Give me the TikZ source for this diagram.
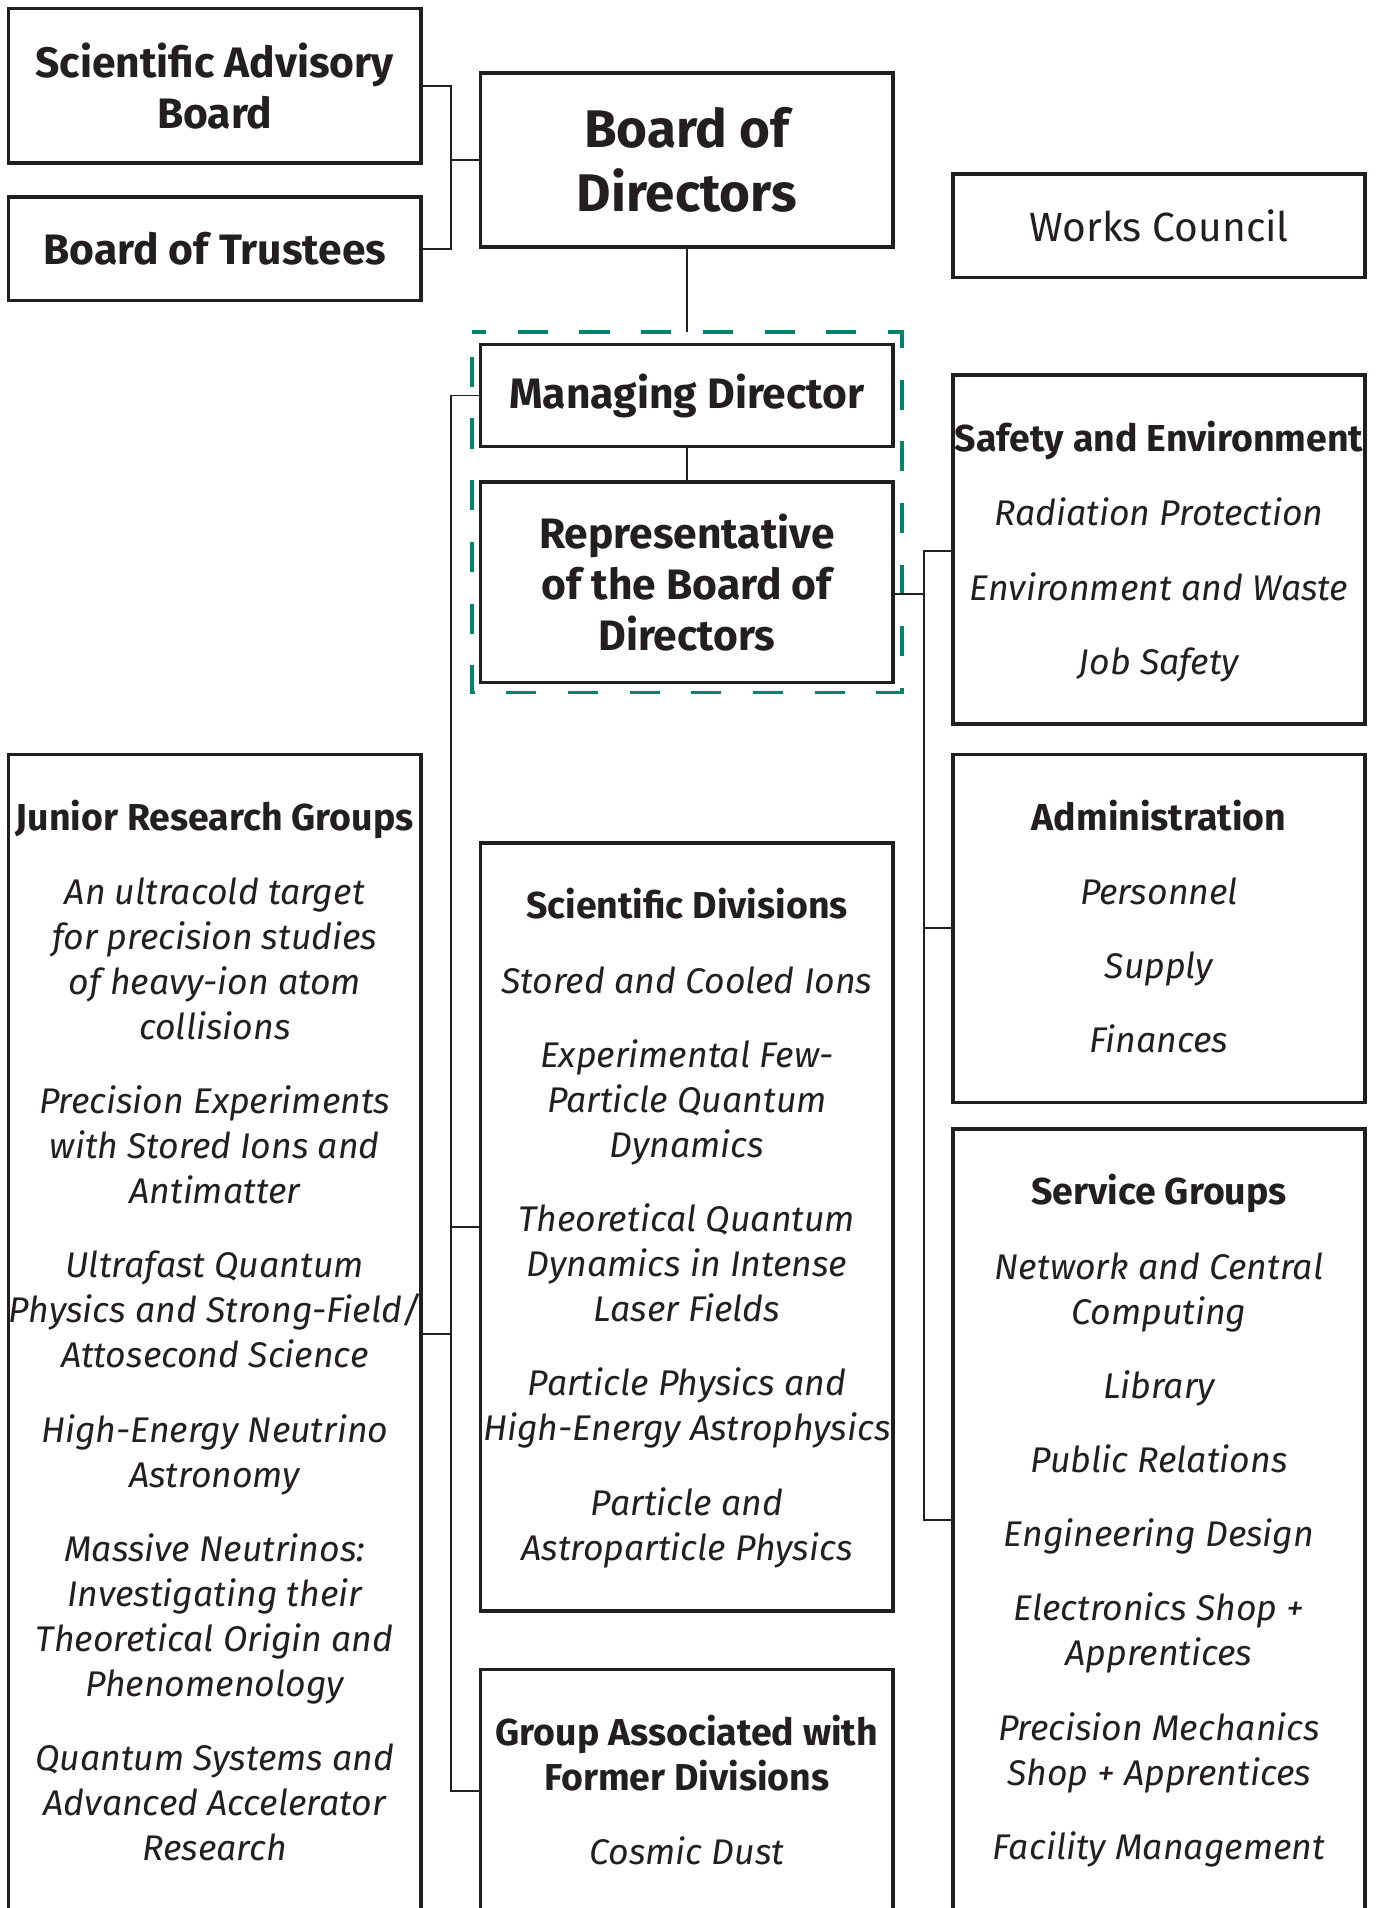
\documentclass[tikz,border=0pt]{standalone}
\usepackage{fontspec}
\setmainfont{Fira Sans}
\definecolor{ink}{HTML}{231F20}
\definecolor{teal}{HTML}{00836F}
\newcommand\hd[1]{{\upshape\bfseries\fontsize{30.8}{37}\selectfont #1}}
\begin{document}
\begin{tikzpicture}[x=1pt,y=-1pt,
  box/.style={draw=ink,line width=3pt,inner sep=0pt,minimum width=339pt,align=center,text=ink},
  bigbold/.style={font=\fontsize{35}{42}\selectfont\bfseries},
  hugebold/.style={font=\fontsize{43.5}{53}\selectfont\bfseries},
  listtext/.style={anchor=north,inner sep=0pt,align=center,text=ink,font=\fontsize{29.3}{37}\selectfont\itshape},
  conn/.style={draw=ink,line width=1.6pt},
  grpline/.style={draw=teal,line width=3pt,dash pattern=on 24.7pt off 26pt,dash phase=13pt}
]
\useasboundingbox (0,0) rectangle (1135,1568);
\clip (0,0) rectangle (1135,1568);
\fill[white] (0,0) rectangle (1135,1568);

% top row
\node[box,bigbold,minimum height=127pt] (sab) at (176.5,70.5) {Scientific Advisory\\Board};
\node[box,bigbold,minimum height=85pt] (bot) at (176.5,204.5) {Board of Trustees};
\node[box,hugebold,minimum height=143pt] (bod) at (564.5,131.5) {Board of\\Directors};
\node[box,font=\fontsize{33.5}{40}\selectfont,minimum height=85pt] (wc) at (952.5,185.5) {Works Council};

% management group
\node[inner sep=0pt,minimum width=353pt,minimum height=296pt] (grp) at (564.5,421) {};
\draw[grpline] (grp.north west) -- (grp.north east) -- (grp.south east) -- (grp.south west) -- cycle;
\node[box,bigbold,minimum height=84pt] (md) at (564.5,325) {Managing Director};
\node[box,bigbold,minimum height=165pt] (rep) at (564.5,478.5) {Representative\\of the Board of\\Directors};

% right column
\node[box,minimum height=287pt] (safe) at (952.5,451.5) {};
\node[listtext] (safet) at (952.5,345) {\strut\hd{Safety and Environment}\\[24pt]Radiation Protection\\[24pt]Environment and Waste\\[24pt]Job Safety};
\node[box,minimum height=286pt] (adm) at (952.5,763) {};
\node[listtext] (admt) at (952.5,656) {\strut\hd{Administration}\\[24pt]Personnel\\[24pt]Supply\\[24pt]Finances};
\node[box,minimum height=692pt] (serv) at (952.5,1274) {};
\node[listtext] (servt) at (952.5,964) {\strut\hd{Service Groups}\\[24pt]Network and Central\\Computing\\[24pt]Library\\[24pt]Public Relations\\[24pt]Engineering Design\\[24pt]Electronics Shop +\\Apprentices\\[24pt]Precision Mechanics\\Shop + Apprentices\\[24pt]Facility Management};

% left column
\node[box,minimum height=1000pt] (jun) at (176.5,1120) {};
\node[listtext] (junt) at (176.5,656) {\strut\hd{Junior Research Groups}\\[24pt]An ultracold target\\for precision studies\\of heavy-ion atom\\collisions\\[24pt]Precision Experiments\\with Stored Ions and\\Antimatter\\[24pt]Ultrafast Quantum\\Physics and Strong-Field/\\Attosecond Science\\[24pt]High-Energy Neutrino\\Astronomy\\[24pt]Massive Neutrinos:\\Investigating their\\Theoretical Origin and\\Phenomenology\\[24pt]Quantum Systems and\\Advanced Accelerator\\Research};

% middle column
\node[box,minimum height=631pt] (sci) at (564.5,1008.5) {};
\node[listtext] (scit) at (564.5,729) {\strut\hd{Scientific Divisions}\\[24pt]Stored and Cooled Ions\\[24pt]Experimental Few-\\Particle Quantum\\Dynamics\\[24pt]Theoretical Quantum\\Dynamics in Intense\\Laser Fields\\[24pt]Particle Physics and\\High-Energy Astrophysics\\[24pt]Particle and\\Astroparticle Physics};
\node[box,minimum height=248pt] (grpf) at (564.5,1496) {};
\node[listtext] (grpft) at (564.5,1408) {\strut\hd{Group Associated with}\\\hd{Former Divisions}\\[24pt]Cosmic Dust};

% connectors
\coordinate (jtop) at (371,131.5);
\draw[conn] (sab.east) -| (jtop) |- (bot.east);
\draw[conn] (jtop) -- (bod.west);
\draw[conn] (bod.south) -- (grp.north);
\draw[conn] (md.south) -- (rep.north);

\coordinate (lbot) at (371,1472);
\coordinate (ljun) at (371,1096);
\draw[conn] (md.west) -| (lbot) -- (lbot -| grpf.west);
\draw[conn] (lbot |- sci.west) -- (sci.west);
\draw[conn] (ljun) -- (ljun -| jun.east);

\coordinate (rrep) at (759,488);
\coordinate (rtop) at (759,453);
\coordinate (rbot) at (759,1249);
\draw[conn] (rrep -| rep.east) -- (rrep);
\draw[conn] (rtop -| safe.west) -- (rtop) -- (rbot) -- (rbot -| serv.west);
\draw[conn] (rtop |- adm.west) -- (adm.west);
\end{tikzpicture}
\end{document}
